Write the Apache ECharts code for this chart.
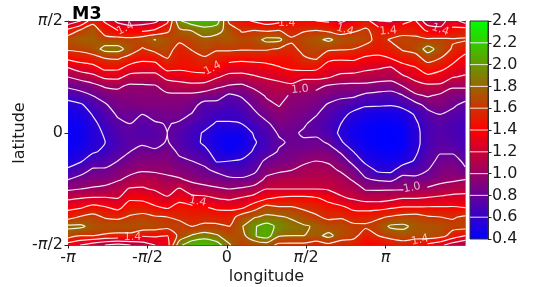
<!DOCTYPE html>
<html><head><meta charset="utf-8">
<style>html,body{margin:0;padding:0;background:#fff}#c{width:538px;height:287px}</style>
<script src="https://cdn.jsdelivr.net/npm/echarts@6/dist/echarts.min.js"></script>
</head><body><div id="c"></div>
<script>
// Each column: values read from top (lat +90) to bottom (lat -90), left to right in longitude.
var col00=[1.05,1.45,1.72,1.63,1.44,1.2,1.0,.83,.66,.54,.47,.44,.42,.43,.46,.5,.64,.8,.97,1.17,1.35,1.52,1.84,1.7,1.3];
var col01=[1.2,1.62,1.78,1.65,1.48,1.3,1.07,.87,.73,.57,.5,.46,.45,.46,.49,.58,.72,.87,1.0,1.2,1.38,1.62,1.84,1.6,1.2];
var col02=[1.52,1.74,1.78,1.7,1.53,1.33,1.14,.93,.8,.69,.61,.56,.54,.55,.58,.7,.83,.92,1.02,1.22,1.48,1.66,1.73,1.6,1.1];
var col03=[1.38,1.48,1.68,1.87,1.6,1.46,1.24,1.02,.87,.78,.71,.66,.62,.6,.63,.72,.83,.92,1.05,1.22,1.42,1.58,1.72,1.57,1.0];
var col04=[1.15,1.4,1.68,1.87,1.62,1.45,1.25,1.03,.93,.88,.82,.76,.72,.69,.72,.8,.9,.98,1.12,1.2,1.35,1.56,1.72,1.55,.95];
var col05=[1.05,1.38,1.66,1.72,1.52,1.33,1.13,.96,.93,.88,.82,.8,.76,.75,.8,.88,.95,1.05,1.22,1.37,1.5,1.62,1.72,1.55,1.0];
var col06=[1.1,1.36,1.72,1.58,1.45,1.3,1.12,.97,.94,.91,.8,.74,.72,.78,.84,.92,.98,1.12,1.22,1.36,1.5,1.66,1.72,1.42,1.1];
var col07=[1.15,1.42,1.805,1.66,1.47,1.3,1.12,.98,.93,.9,.86,.78,.74,.76,.82,.93,.97,1.1,1.18,1.3,1.43,1.62,1.7,1.43,1.2];
var col08=[1.35,1.56,1.72,1.7,1.6,1.47,1.26,1.08,.96,.91,.86,.81,.8,.81,.87,.93,.97,1.03,1.13,1.22,1.38,1.6,1.66,1.4,1.3];
var col09=[1.98,1.76,1.65,1.5,1.48,1.45,1.27,1.13,.95,.9,.85,.78,.72,.73,.77,.83,.92,1.02,1.22,1.34,1.48,1.56,1.66,1.66,1.95];
var col10=[2.12,1.81,1.68,1.62,1.5,1.46,1.33,1.13,.95,.86,.79,.7,.66,.66,.7,.8,.88,.96,1.1,1.26,1.45,1.52,1.6,1.82,2.15];
var col11=[2.15,1.92,1.75,1.68,1.58,1.5,1.32,1.12,.9,.73,.7,.66,.58,.57,.65,.76,.83,.91,1.07,1.25,1.42,1.56,1.62,1.9,2.2];
var col12=[2.1,1.87,1.72,1.62,1.52,1.4,1.22,1.03,.88,.73,.66,.58,.48,.47,.52,.58,.77,.88,1.03,1.2,1.36,1.53,1.63,1.82,2.1];
var col13=[1.55,1.72,1.75,1.63,1.48,1.3,1.14,.98,.76,.68,.63,.59,.46,.43,.44,.6,.7,.84,1.0,1.17,1.36,1.5,1.6,1.7,1.82];
var col14=[1.45,1.58,1.68,1.62,1.45,1.3,1.13,.96,.82,.72,.67,.6,.47,.44,.52,.62,.7,.83,1.03,1.22,1.37,1.7,1.78,1.72,1.62];
var col15=[1.38,1.6,1.7,1.62,1.47,1.3,1.18,1.04,.9,.84,.76,.66,.62,.58,.62,.7,.76,.88,1.08,1.28,1.52,1.78,1.98,1.98,1.65];
var col16=[1.3,1.57,1.86,1.62,1.47,1.34,1.22,1.1,1.02,.95,.87,.77,.7,.68,.7,.84,.92,1.05,1.2,1.38,1.68,1.84,2.08,2.1,1.7];
var col17=[1.35,1.6,1.85,1.58,1.46,1.39,1.25,1.14,1.08,1.01,.95,.88,.82,.77,.82,.88,.97,1.1,1.2,1.43,1.62,1.82,1.95,1.82,1.55];
var col18=[1.42,1.52,1.63,1.55,1.47,1.43,1.3,1.16,.97,.93,.9,.87,.83,.83,.86,.9,1.0,1.11,1.2,1.45,1.62,1.78,1.86,1.8,1.55];
var col19=[1.42,1.58,1.7,1.65,1.58,1.47,1.24,1.08,.95,.91,.87,.82,.78,.82,.86,.97,1.05,1.12,1.2,1.45,1.57,1.7,1.82,1.8,1.55];
var col20=[1.4,1.6,1.75,1.68,1.62,1.45,1.25,1.05,.93,.87,.81,.75,.77,.84,.9,1.0,1.07,1.12,1.2,1.42,1.55,1.62,1.78,1.74,1.5];
var col21=[1.38,1.55,1.84,1.63,1.45,1.3,1.22,.97,.88,.78,.72,.68,.7,.78,.88,.98,1.05,1.12,1.18,1.35,1.47,1.57,1.68,1.86,1.55];
var col22=[1.15,1.5,1.72,1.62,1.42,1.32,1.13,.95,.84,.72,.65,.6,.56,.62,.78,.88,.98,1.08,1.13,1.23,1.45,1.58,1.7,1.7,1.5];
var col23=[1.3,1.57,1.72,1.6,1.43,1.3,1.13,.94,.83,.67,.56,.5,.46,.5,.6,.75,.86,.98,1.1,1.18,1.35,1.52,1.64,1.66,1.5];
var col24=[1.5,1.63,1.68,1.52,1.37,1.25,1.1,.95,.75,.62,.5,.44,.42,.43,.47,.54,.72,.82,.98,1.13,1.33,1.53,1.63,1.5,1.4];
var col25=[1.2,1.52,1.52,1.48,1.36,1.22,1.08,.92,.72,.62,.47,.42,.4,.41,.44,.5,.56,.78,.98,1.12,1.34,1.57,1.68,1.6,1.4];
var col26=[1.18,1.44,1.62,1.52,1.4,1.18,1.07,.9,.7,.61,.47,.42,.4,.4,.42,.48,.55,.76,.98,1.15,1.38,1.62,1.83,1.68,1.45];
var col27=[1.35,1.5,1.68,1.62,1.5,1.32,1.17,1.0,.79,.66,.5,.45,.42,.42,.45,.52,.72,.87,.98,1.2,1.42,1.66,1.84,1.72,1.5];
var col28=[1.42,1.5,1.66,1.67,1.52,1.39,1.25,1.13,.96,.73,.62,.57,.55,.55,.57,.62,.7,.87,1.03,1.2,1.42,1.68,1.75,1.7,1.42];
var col29=[1.05,1.37,1.63,1.88,1.68,1.5,1.36,1.15,1.02,.86,.74,.7,.68,.68,.71,.76,.8,.88,1.03,1.22,1.42,1.62,1.72,1.72,1.35];
var col30=[1.12,1.25,1.66,1.72,1.6,1.46,1.3,1.16,.96,.92,.8,.75,.74,.75,.79,.83,.88,.94,1.08,1.24,1.42,1.6,1.72,1.68,1.25];
var col31=[1.3,1.45,1.62,1.58,1.47,1.35,1.21,1.02,.92,.83,.75,.7,.7,.72,.78,.86,.92,.97,1.12,1.26,1.42,1.58,1.66,1.52,1.1];
var col32=[1.1,1.52,1.62,1.48,1.34,1.27,1.18,1.03,.88,.75,.7,.67,.66,.68,.72,.77,.82,1.0,1.13,1.27,1.4,1.63,1.68,1.4,1.0];
var columns=[col00,col01,col02,col03,col04,col05,col06,col07,col08,col09,col10,col11,col12,col13,col14,col15,col16,col17,col18,col19,col20,col21,col22,col23,col24,col25,col26,col27,col28,col29,col30,col31,col32];

var lonRange=[-180,270], latRange=[-90,90];
var lonTicks=[-180,-90,0,90,180];
var lonTickLabels=['-{i|π}','-{i|π}/2','0','{i|π}/2','{i|π}'];
var latTicks=[-90,0,90];
var latTickLabels=['-{i|π}/2','0','{i|π}/2'];
var contourLevels=[0.6,0.8,1.0,1.2,1.4,1.6,1.8,2.0,2.2];
// contour labels: lon, lat, text, rotation
var clabels=[[-115,84,'1.4',25],[-16,52,'1.4',28],[68,88,'1.4',0],[134,83,'1.4',-15],[183,82,'1.4',5],[242,83,'1.4',-20],
 [-107,-84,'1.4',0],[-33,-55,'1.4',-12],[219,-86,'1.4',12],[83,35,'1.0',5],[210,-44,'1.0',12]];

var nC=columns.length, nR=col00.length;
function lonOf(i){return lonRange[0]+(lonRange[1]-lonRange[0])*i/(nC-1);}
function latOf(j){return latRange[1]-(latRange[1]-latRange[0])*j/(nR-1);}
function cmap(v){
  var t=(v-0.4)/2; t=Math.max(0,Math.min(1,t));
  var r,g,b;
  if(t<.5){r=t*2;g=0;b=1-t*2;}else{r=1-(t-.5)*2;g=(t-.5)*2;b=0;}
  return 'rgb('+Math.round(r*255)+','+Math.round(g*255)+','+Math.round(b*255)+')';
}
var cells=[];
for(var i=0;i<nC-1;i++)for(var j=0;j<nR-1;j++)cells.push([i,j]);
var SUB=4;
function renderCell(params,api){
  var i=api.value(0),j=api.value(1),kids=[];
  var a=columns[i][j],b=columns[i+1][j],c=columns[i][j+1],d=columns[i+1][j+1];
  for(var s=0;s<SUB;s++)for(var t=0;t<SUB;t++){
    var u=(s+.5)/SUB,w=(t+.5)/SUB;
    var v=a*(1-u)*(1-w)+b*u*(1-w)+c*(1-u)*w+d*u*w;
    var p0=api.coord([lonOf(i+s/SUB),latOf(j+t/SUB)]);
    var p1=api.coord([lonOf(i+(s+1)/SUB),latOf(j+(t+1)/SUB)]);
    var x0=Math.round(p0[0]),y0=Math.round(p0[1]),x1=Math.round(p1[0]),y1=Math.round(p1[1]);
    kids.push({type:'rect',shape:{x:x0,y:y0,width:x1-x0,height:y1-y0},style:{fill:cmap(v)},silent:true});
  }
  return {type:'group',children:kids};
}
function contour(level){
  var segs=[];
  function edge(i1,j1,i2,j2){
    var v1=columns[i1][j1],v2=columns[i2][j2],f=(level-v1)/(v2-v1);
    return [lonOf(i1+(i2-i1)*f),latOf(j1+(j2-j1)*f)];
  }
  function near(p,q){
    return clabels.some(function(l){
      if(parseFloat(l[2])!==level)return false;
      var mx=(p[0]+q[0])/2,my=(p[1]+q[1])/2;
      return Math.abs(mx-l[0])<13&&Math.abs(my-l[1])<6;
    });
  }
  function seg(p,q){ if(!near(p,q)) segs.push([p,q]); }
  for(var i=0;i<nC-1;i++)for(var j=0;j<nR-1;j++){
    var a=columns[i][j]>=level,b=columns[i+1][j]>=level,c=columns[i+1][j+1]>=level,d=columns[i][j+1]>=level;
    var k=(a?8:0)+(b?4:0)+(c?2:0)+(d?1:0);
    if(k===0||k===15)continue;
    var T=function(){return edge(i,j,i+1,j)},R=function(){return edge(i+1,j,i+1,j+1)},B=function(){return edge(i,j+1,i+1,j+1)},L=function(){return edge(i,j,i,j+1)};
    switch(k){
      case 1:case 14:seg(L(),B());break;
      case 2:case 13:seg(B(),R());break;
      case 3:case 12:seg(L(),R());break;
      case 4:case 11:seg(T(),R());break;
      case 6:case 9:seg(T(),B());break;
      case 7:case 8:seg(T(),L());break;
      case 5:case 10:
        var m=(columns[i][j]+columns[i+1][j]+columns[i][j+1]+columns[i+1][j+1])/4>=level;
        if((k===5)===m){seg(T(),L());seg(B(),R());}else{seg(T(),R());seg(L(),B());}
        break;
    }
  }
  // join the pieces into continuous lines
  function key(p){return p[0].toFixed(3)+'_'+p[1].toFixed(3);}
  var used=segs.map(function(){return false;}),idx={};
  segs.forEach(function(s,n){[0,1].forEach(function(e){var K=key(s[e]);(idx[K]=idx[K]||[]).push(n);});});
  function extend(chain){
    for(;;){
      var K=key(chain[chain.length-1]),list=idx[K]||[],found=false;
      for(var q=0;q<list.length;q++){
        var n=list[q];
        if(used[n])continue;
        used[n]=true;found=true;
        var s=segs[n];
        chain.push(key(s[0])===K?s[1]:s[0]);
        break;
      }
      if(!found)return chain;
    }
  }
  var out=[];
  segs.forEach(function(s,n){
    if(used[n])return;
    used[n]=true;
    var fwd=extend([s[0],s[1]]);
    var back=extend([fwd[0]]);
    var chain=back.reverse().concat(fwd.slice(1));
    out=out.concat(chain);
    out.push([null,null]);
  });
  return out;
}
var lineSeries=contourLevels.map(function(l){
  return {type:'line',xAxisIndex:0,yAxisIndex:0,data:contour(l),showSymbol:false,symbol:'none',connectNulls:false,smooth:0.25,smoothMonotone:null,
    lineStyle:{color:'#fff',width:1.2,opacity:.9,cap:'round',join:'round'},silent:true,animation:false,z:3,clip:true};
});
var txt='#1a1a1a', fs=16;
var rich={i:{fontStyle:'italic',fontSize:fs,fontFamily:'DejaVu Sans',color:txt}};
var option={
  animation:false,backgroundColor:'#fff',
  textStyle:{fontFamily:'DejaVu Sans'},
  title:{text:'M3',left:72,top:5,textStyle:{fontFamily:'DejaVu Sans',fontWeight:'bold',fontSize:17.5,color:'#000'},padding:0},
  grid:[{left:68,top:21,width:397,height:224,outerBoundsMode:'none'},{left:470,top:21,width:18,height:218,outerBoundsMode:'none'}],
  xAxis:[
    {type:'value',gridIndex:0,min:lonRange[0],max:lonRange[1],position:'bottom',name:'longitude',nameLocation:'middle',nameGap:32,nameMoveOverlap:false,
     nameTextStyle:{fontSize:fs,color:txt,fontFamily:'DejaVu Sans',verticalAlign:'middle'},
     axisLine:{lineStyle:{color:'#555',width:1},onZero:false},splitLine:{show:false},
     axisTick:{customValues:lonTicks,length:3.5,lineStyle:{color:'#222'}},
     axisLabel:{customValues:lonTicks,fontSize:fs,color:txt,margin:5,rich:rich,hideOverlap:false,
       formatter:function(v){return lonTickLabels[lonTicks.indexOf(v)]||'';}}},
    {type:'value',gridIndex:0,min:lonRange[0],max:lonRange[1],position:'top',axisLine:{lineStyle:{color:'#111',width:1},onZero:false},axisTick:{show:false},axisLabel:{show:false},splitLine:{show:false}},
    {type:'value',gridIndex:1,min:0,max:1,show:false}
  ],
  yAxis:[
    {type:'value',gridIndex:0,min:latRange[0],max:latRange[1],position:'left',name:'latitude',nameLocation:'middle',nameGap:48,nameRotate:90,nameMoveOverlap:false,
     nameTextStyle:{fontSize:fs,color:txt,fontFamily:'DejaVu Sans',verticalAlign:'middle'},
     axisLine:{lineStyle:{color:'#555',width:1},onZero:false},splitLine:{show:false},
     axisTick:{customValues:latTicks,length:3.5,lineStyle:{color:'#222'}},
     axisLabel:{customValues:latTicks,fontSize:fs,color:txt,margin:5,rich:rich,hideOverlap:false,
       formatter:function(v){return latTickLabels[latTicks.indexOf(v)]||'';}}},
    {type:'value',gridIndex:0,min:latRange[0],max:latRange[1],position:'right',axisLine:{lineStyle:{color:'#888',width:1},onZero:false},axisTick:{show:false},axisLabel:{show:false},splitLine:{show:false}},
    {type:'value',gridIndex:1,min:0.4,max:2.4,interval:0.2,position:'right',
     axisLine:{show:true,lineStyle:{color:'#333',width:1},onZero:false},splitLine:{show:false},
     axisTick:{length:3.5,lineStyle:{color:'#222'}},
     axisLabel:{fontSize:fs,color:txt,margin:4,hideOverlap:false,formatter:function(v){return v.toFixed(1);}}}
  ],
  series:[
    {type:'custom',xAxisIndex:0,yAxisIndex:0,data:cells,renderItem:renderCell,silent:true,z:2,animation:false,clip:true,progressive:0,encode:{x:[],y:[]}},
  ].concat(lineSeries).concat([
    {type:'scatter',xAxisIndex:0,yAxisIndex:0,symbolSize:0,z:5,silent:true,
     data:clabels.map(function(l){return {value:[l[0],l[1]],label:{show:true,position:'inside',formatter:l[2],rotate:l[3],color:'rgba(255,255,255,.88)',fontSize:11,fontFamily:'DejaVu Sans'}};})},
    {type:'custom',xAxisIndex:2,yAxisIndex:2,silent:true,z:2,data:[[0,0.4]],encode:{x:[],y:[]},
     renderItem:function(params,api){
       var top=api.coord([0,2.4]),bot=api.coord([1,0.4]);
       return {type:'rect',shape:{x:top[0],y:top[1],width:bot[0]-top[0],height:bot[1]-top[1]},
         style:{stroke:'#333',lineWidth:1,fill:{type:'linear',x:0,y:1,x2:0,y2:0,colorStops:[{offset:0,color:'#0000ff'},{offset:.5,color:'#ff0000'},{offset:1,color:'#00ff00'}]}}};
     }},
    {type:'custom',xAxisIndex:2,yAxisIndex:2,silent:true,z:3,data:contourLevels.map(function(l){return [0,l];}),encode:{x:[],y:[]},
     renderItem:function(params,api){
       var a=api.coord([0,api.value(1)]),b=api.coord([1,api.value(1)]);
       return {type:'line',shape:{x1:a[0],y1:a[1],x2:b[0],y2:b[1]},style:{stroke:'#fff',lineWidth:1.1,opacity:.8}};
     }}
  ])
};
var chart=echarts.init(document.getElementById('c'),null,{renderer:'canvas'});
chart.setOption(option);
</script></body></html>
